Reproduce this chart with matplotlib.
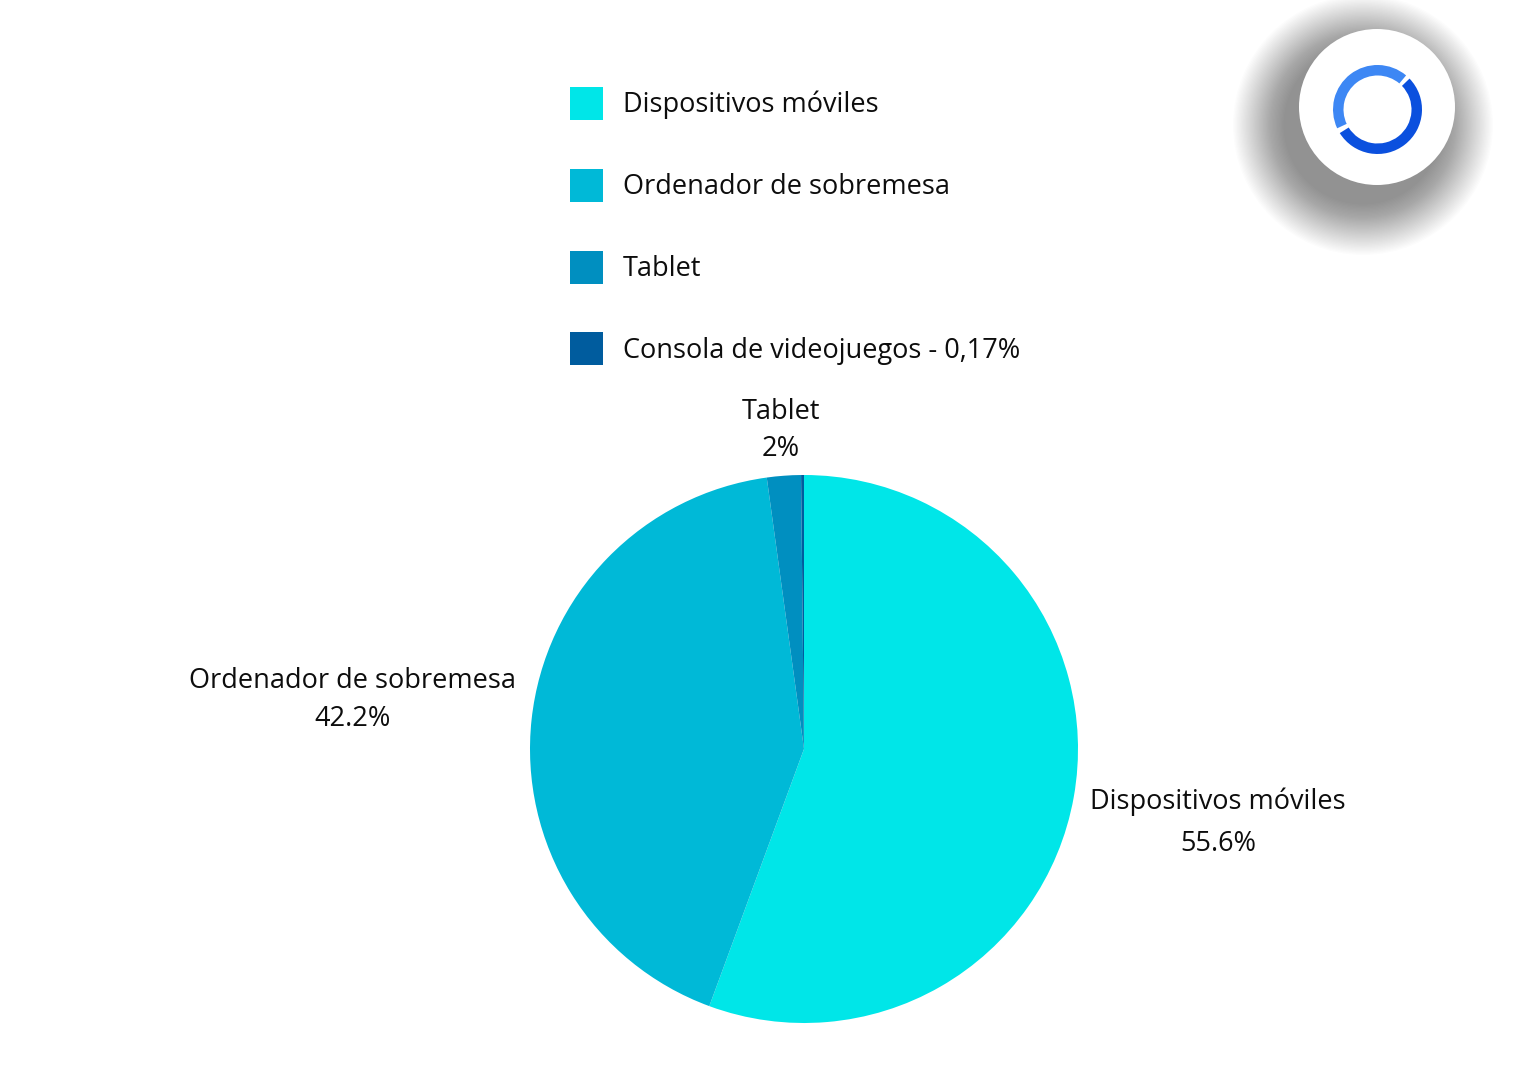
import matplotlib
matplotlib.use("Agg")
import matplotlib.pyplot as plt
import numpy as np
from matplotlib.patches import Circle, Wedge

plt.rcParams['font.family'] = ['Open Sans', 'DejaVu Sans']

categories = ["Dispositivos móviles", "Ordenador de sobremesa", "Tablet", "Consola de videojuegos"]
values = [55.6, 42.2, 2.0, 0.17]
pie_labels = ["Dispositivos móviles\n55.6%", "Ordenador de sobremesa\n42.2%", "Tablet\n2%", ""]
legend_labels = ["Dispositivos móviles", "Ordenador de sobremesa", "Tablet", "Consola de videojuegos - 0,17%"]
colors = ["#00E6E8", "#00B9D7", "#008FC0", "#005C9E"]
label_dist = [1.535, 1.656, 1.167, 1.2]
label_linespacing = [1.67, 1.47, 1.43, 1.4]

W, H = 1521, 1080
fig = plt.figure(figsize=(W / 100, H / 100), dpi=100)
ax = fig.add_axes([0, 0, 1, 1])

cx, cy, R = 804, 1080 - 749, 274  # pixel center/radius of pie

wedges, _ = ax.pie(values, colors=colors, startangle=90, counterclock=False,
                   radius=1.0, wedgeprops=dict(linewidth=0))

fs = 19.5
for w, lab, d, ls in zip(wedges, pie_labels, label_dist, label_linespacing):
    if not lab:
        continue
    ang = np.deg2rad((w.theta1 + w.theta2) / 2)
    ax.text(d * np.cos(ang), d * np.sin(ang), lab, ha='center', va='center',
            fontsize=fs, color='#0d0d0d', linespacing=ls)

ax.set_aspect('auto')
ax.set_xlim(-cx / R, (W - cx) / R)
ax.set_ylim(-cy / R, (H - cy) / R)
ax.axis('off')

# legend
leg = fig.legend(wedges, legend_labels, loc='upper left',
                 bbox_to_anchor=(570 / W, 1 - 87 / H), frameon=False,
                 fontsize=fs, handlelength=1.22, handleheight=1.5,
                 handletextpad=0.74, labelspacing=1.8, borderpad=0,
                 borderaxespad=0)
for t in leg.get_texts():
    t.set_color('#0d0d0d')

# decorative logo badge (top right)
lx, ly, lr = (1377 - cx) / R, (1080 - 107 - cy) / R, 78 / R
sx, sy = lx - 14 / R, ly - 18 / R
n = 40
for i in range(n):
    rr = lr + (52 / R) * (1 - i / n)
    ax.add_patch(Circle((sx, sy), rr, color='black', alpha=0.013, lw=0, zorder=5))
ax.add_patch(Circle((lx, ly), lr, color='white', lw=0, zorder=6))
rcx, rcy = (1377.5 - cx) / R, (1080 - 109.5 - cy) / R
ro, width = 44.5 / R, 10.5 / R
ax.add_patch(Wedge((rcx, rcy), ro, 50, 205, width=width, color='#3D87F4', lw=0, zorder=7))
ax.add_patch(Wedge((rcx, rcy), ro, 212, 44 + 360, width=width, color='#0B50DE', lw=0, zorder=7))

fig.savefig("out.png", dpi=100, facecolor='white')
